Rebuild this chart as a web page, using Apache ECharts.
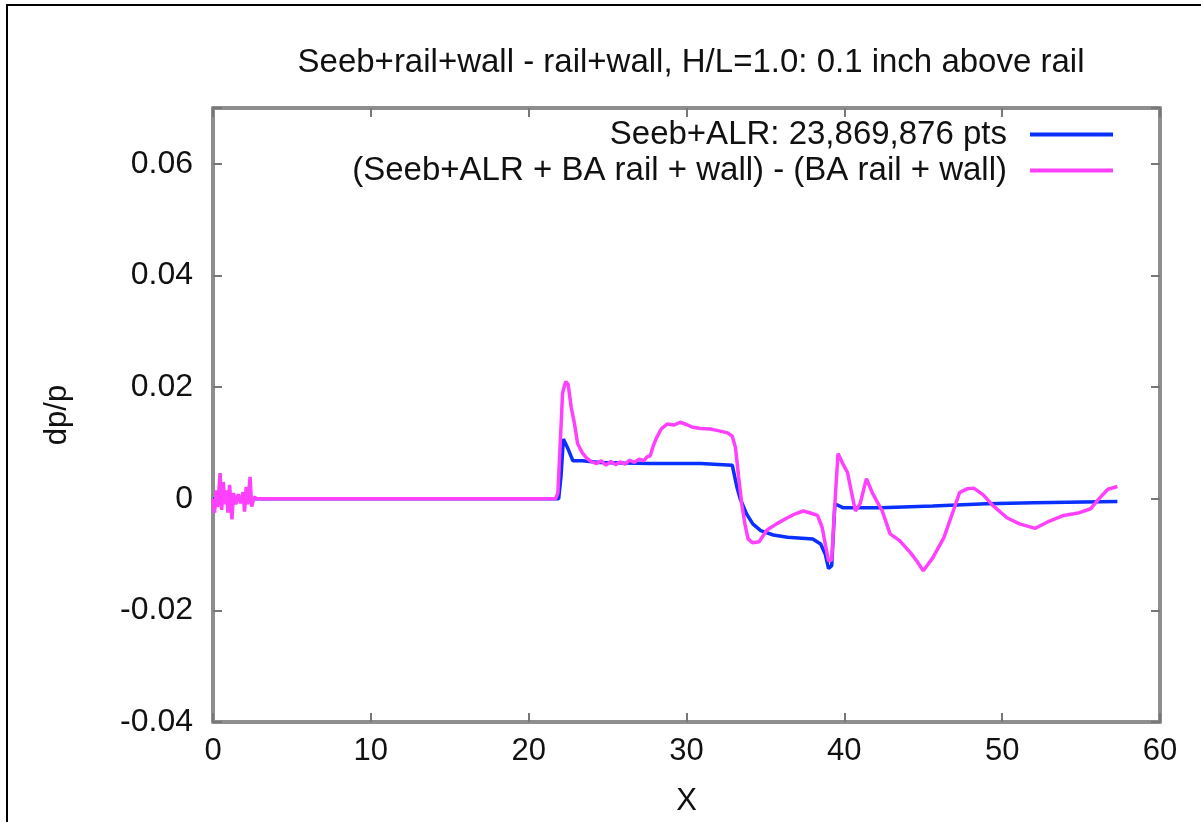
<!DOCTYPE html>
<html>
<head>
<meta charset="utf-8">
<script src="https://cdn.jsdelivr.net/npm/echarts@6/dist/echarts.min.js"></script>
<style>
html,body{margin:0;padding:0;background:#fff;}
#chart{width:1201px;height:822px;}
</style>
</head>
<body>
<div id="chart"></div>
<script>
const titleText = "Seeb+rail+wall - rail+wall, H/L=1.0: 0.1 inch above rail";
const seriesNames = ["Seeb+ALR: 23,869,876 pts", "(Seeb+ALR + BA rail + wall) - (BA rail + wall)"];
const xTicks = [0, 10, 20, 30, 40, 50, 60];
const yTicks = [-0.04, -0.02, 0, 0.02, 0.04, 0.06];

const blueData = [
  [0,0],[21.9,0],[22.05,0.004],[22.2,0.0107],[22.5,0.0089],[22.8,0.0068],[23.4,0.0068],
  [24.5,0.0065],[26,0.0064],[27.7,0.0063],[29,0.0063],[30.9,0.0063],[32.9,0.006],
  [33.2,0.002],[33.4,0],[33.8,-0.0027],[34.2,-0.0045],[34.7,-0.0057],[35.5,-0.0065],
  [36.4,-0.0069],[38.0,-0.0072],[38.5,-0.0081],[38.8,-0.010],[39.0,-0.0125],[39.2,-0.012],
  [39.4,-0.0009],[39.9,-0.0016],[42.3,-0.0016],[45.6,-0.0013],[49.0,-0.0009],[52,-0.0007],[57.3,-0.0005]
];

const magentaData = [
  [0,0],[0.1,-0.0025],[0.2,0.0015],[0.3,-0.0015],[0.45,0.0046],[0.55,-0.002],[0.65,0.003],
  [0.75,-0.001],[0.85,0.0015],[0.95,-0.0025],[1.05,0.0025],[1.2,-0.0037],[1.3,0.001],
  [1.45,-0.001],[1.6,0.0008],[1.75,-0.0008],[1.9,0.0012],[2.0,-0.0023],[2.1,0.0021],
  [2.2,-0.001],[2.35,0.0039],[2.45,-0.0014],[2.6,0.0003],[2.8,0],[21.7,0],
  [21.85,0.001],[22.0,0.0099],[22.15,0.019],[22.35,0.021],[22.5,0.0205],[22.7,0.0163],
  [22.9,0.0135],[23.1,0.0099],[23.4,0.0082],[23.7,0.0072],[24.0,0.0066],[24.3,0.0063],
  [24.6,0.0068],[24.9,0.0060],[25.2,0.0067],[25.5,0.0061],[25.8,0.0066],[26.1,0.0062],
  [26.4,0.0069],[26.7,0.0065],[27.0,0.0071],[27.3,0.0068],[27.5,0.0075],[27.7,0.0077],
  [27.9,0.0095],[28.1,0.0109],[28.4,0.0125],[28.8,0.0134],[29.2,0.0132],[29.6,0.0137],
  [30.0,0.0133],[30.4,0.0128],[30.9,0.0126],[31.5,0.0125],[32.0,0.0122],[32.6,0.0118],
  [32.9,0.0112],[33.1,0.0092],[33.3,0.004],[33.5,-0.001],[33.7,-0.0045],[33.9,-0.0072],
  [34.2,-0.0079],[34.6,-0.0077],[35.1,-0.0056],[35.7,-0.0045],[36.4,-0.0034],[36.9,-0.0027],
  [37.4,-0.0022],[37.9,-0.0026],[38.3,-0.003],[38.6,-0.0052],[38.85,-0.009],[39.0,-0.0111],
  [39.2,-0.011],[39.4,-0.0009],[39.6,0.0081],[39.9,0.0063],[40.2,0.0047],[40.5,0.0005],
  [40.7,-0.0022],[41.0,-0.0009],[41.4,0.0036],[41.8,0.0009],[42.4,-0.0022],[42.9,-0.0063],
  [43.5,-0.0075],[44.2,-0.0097],[44.6,-0.0112],[45.0,-0.0129],[45.6,-0.0106],[46.3,-0.007],
  [46.9,-0.0022],[47.3,0.0011],[47.8,0.0018],[48.2,0.0019],[48.8,0.0007],[49.4,-0.0012],
  [50.3,-0.0034],[51.1,-0.0045],[52.1,-0.0053],[53.0,-0.0040],[53.9,-0.0030],[54.9,-0.0025],
  [55.6,-0.0018],[56.2,0.0002],[56.7,0.0017],[57.3,0.0022]
];

const FONT = "'Liberation Sans', Arial, sans-serif";
const AXIS_COLOR = '#8e8e8e';
const fmtY = v => yTicks.some(t => Math.abs(t - v) < 1e-9) ? String(Number(v.toFixed(2))) : '';
const fmtX = v => xTicks.includes(Math.round(v)) ? String(Math.round(v)) : '';

const chart = echarts.init(document.getElementById('chart'), null, {renderer: 'canvas'});
const axisLine = {show: true, onZero: false, lineStyle: {color: AXIS_COLOR, width: 4}};
const axisTick = {show: true, inside: true, length: 9, lineStyle: {color: '#777', width: 2}};

chart.setOption({
  animation: false,
  backgroundColor: '#fff',
  title: {
    text: titleText,
    left: 686, top: 41, textAlign: 'center',
    textStyle: {fontFamily: FONT, fontSize: 33, fontWeight: 'normal', color: '#111'}
  },
  legend: {
    orient: 'vertical', right: 83, top: 113, align: 'right',
    icon: 'rect', itemWidth: 83, itemHeight: 4, itemGap: 3,
    data: seriesNames,
    textStyle: {fontFamily: FONT, fontSize: 33, color: '#111', padding: [0, 18, 0, 0], lineHeight: 33}
  },
  graphic: [{
    type: 'rect', silent: true, z: 100,
    shape: {x: 7, y: 5, width: 1220, height: 840},
    style: {fill: 'none', stroke: '#000', lineWidth: 2}
  }],
  grid: {left: 213, right: 41, top: 108, bottom: 98, containLabel: false},
  xAxis: [{
    type: 'value', min: 0, max: 60, interval: 10, position: 'bottom',
    name: 'X', nameLocation: 'middle', nameGap: 64,
    nameTextStyle: {fontFamily: FONT, fontSize: 31, color: '#111'},
    axisLine, axisTick, splitLine: {show: false},
    axisLabel: {fontFamily: FONT, fontSize: 31, color: '#111', margin: 14, formatter: fmtX}
  }, {
    type: 'value', min: 0, max: 60, interval: 10, position: 'top',
    axisLine, axisTick, splitLine: {show: false}, axisLabel: {show: false}
  }],
  yAxis: [{
    type: 'value', min: -0.04, max: 0.07, interval: 0.02, position: 'left',
    name: 'dp/p', nameLocation: 'middle', nameGap: 140, nameRotate: 90,
    nameTextStyle: {fontFamily: FONT, fontSize: 31, color: '#111'},
    axisLine, axisTick, splitLine: {show: false},
    axisLabel: {fontFamily: FONT, fontSize: 32, color: '#111', margin: 20, formatter: fmtY}
  }, {
    type: 'value', min: -0.04, max: 0.07, interval: 0.02, position: 'right',
    axisLine, axisTick, splitLine: {show: false}, axisLabel: {show: false}
  }],
  series: [{
    name: seriesNames[0], type: 'line', data: blueData,
    showSymbol: false, symbol: 'none', color: '#0a30ff',
    lineStyle: {width: 3.5, color: '#0a30ff'}, z: 2
  }, {
    name: seriesNames[1], type: 'line', data: magentaData,
    showSymbol: false, symbol: 'none', color: '#ff40ff',
    lineStyle: {width: 3.5, color: '#ff40ff'}, z: 3
  }]
});
</script>
</body>
</html>
